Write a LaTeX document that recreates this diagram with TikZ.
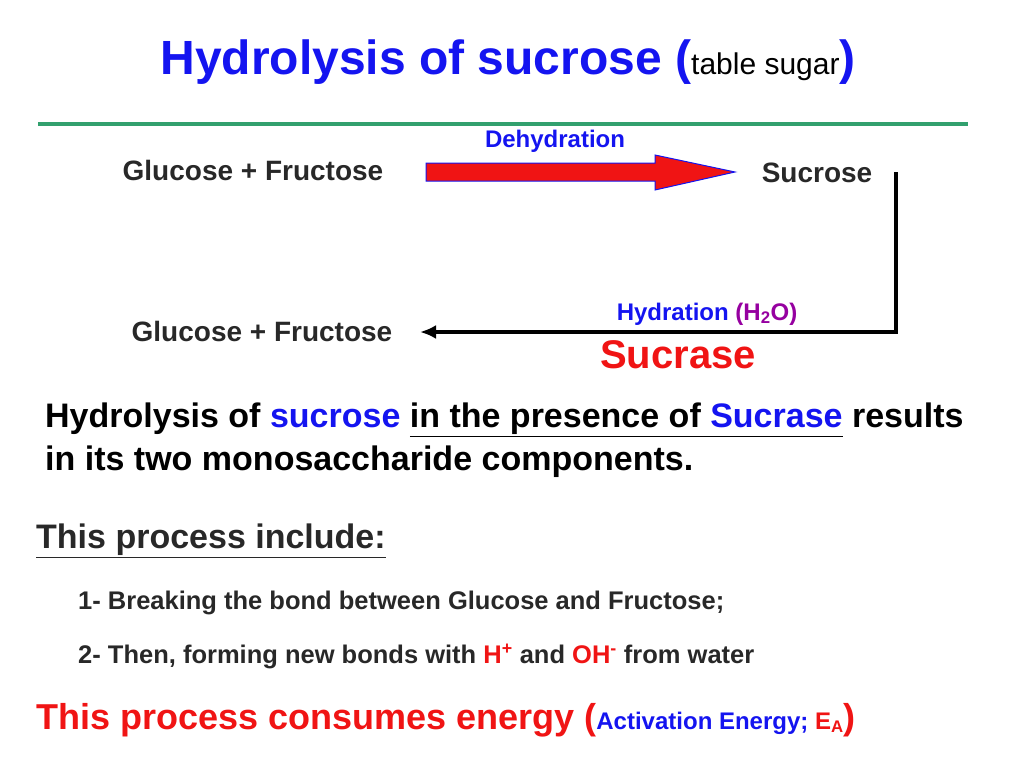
\documentclass[tikz,border=0pt]{standalone}
\usepackage{fontspec}
\setmainfont{Liberation Sans}
\usetikzlibrary{arrows.meta}
\definecolor{tblue}{RGB}{20,20,240}
\definecolor{tred}{RGB}{240,20,20}
\definecolor{tgreen}{RGB}{50,160,110}
\definecolor{tgray}{RGB}{40,40,40}
\definecolor{tpurple}{RGB}{150,0,160}
\newcommand{\fs}[1]{\fontsize{#1}{#1}\selectfont\bfseries}
\tikzset{
  lbl/.style={inner sep=0pt, text=tgray},
  lft/.style={lbl, anchor=west},
}
\begin{document}
\begin{tikzpicture}[x=1pt,y=-1pt]
      \useasboundingbox (0,0) rectangle (1024,768);
      % title
      \node[lbl] (title) at (508,62) {\fs{48}\color{tblue}Hydrolysis of sucrose (\mdseries\fontsize{30}{30}\selectfont\color{black}table sugar\bfseries\fontsize{48}{48}\selectfont\color{tblue})};
      \draw [color=tgreen, line width=3.5pt] (38,124) -- (968,124);
      
      % dehydration
      \node[lbl, text=tblue] (dehyd) at (555,141) {\fs{24}Dehydration};
      \node[lbl] (gf1) at (253,170) {\fs{28}Glucose + Fructose};
      \node[lbl] (suc1) at (817,173) {\fs{28}Sucrose};
      \filldraw [fill=tred, draw=tblue, line width=1pt] (426,163) -- (655,163) -- (655,155)
            -- (735,172) -- (655,190) -- (655,181) -- (426,181) -- cycle;
      
      % hydration
      \coordinate (corner1) at (896,172);
      \coordinate (corner2) at (896,332);
      \node[lbl] (gf2) at (262,331) {\fs{28}Glucose + Fructose};
      \coordinate (tip) at (420,332);
      \draw [line width=4pt, -{Latex[length=16pt,width=14pt]}] (corner1) -- (corner2) -- (tip);
      \node[lbl, text=tblue] (hyd) at (707,314) {\fs{24}Hydration \color{tpurple}(H\textsubscript{2}O)};
      \node[lbl, text=tred] (sucrase) at (678,355) {\fs{40}Sucrase};
      
      % text
      \node[lft] (para1) at (45,420) {\fs{34}\color{black}Hydrolysis of \color{tblue}sucrose\color{black}{} \underline{in the presence of \color{tblue}Sucrase}\color{black}{} results};
      \node[lft] (para2) at (45,462) {\fs{34}\color{black}in its two monosaccharide components.};
      \node[lft] (incl) at (36,541) {\fs{34}\underline{This process include:}};
      \node[lft] (item1) at (78,603) {\fs{25.5}1- Breaking the bond between Glucose and Fructose;};
      \node[lft] (item2) at (78,656) {\fs{25.5}2- Then, forming new bonds with \color{tred}H\textsuperscript{+}\color{tgray}{} and \color{tred}OH\textsuperscript{-}\color{tgray}{} from water};
      \node[lft, text=tred] (energy) at (36,720) {\fs{36}This process consumes energy (\fontsize{24}{24}\selectfont\color{tblue}Activation Energy; \color{tred}E\textsubscript{A}\fontsize{36}{36}\selectfont)};
      \end{tikzpicture}
\end{document}
